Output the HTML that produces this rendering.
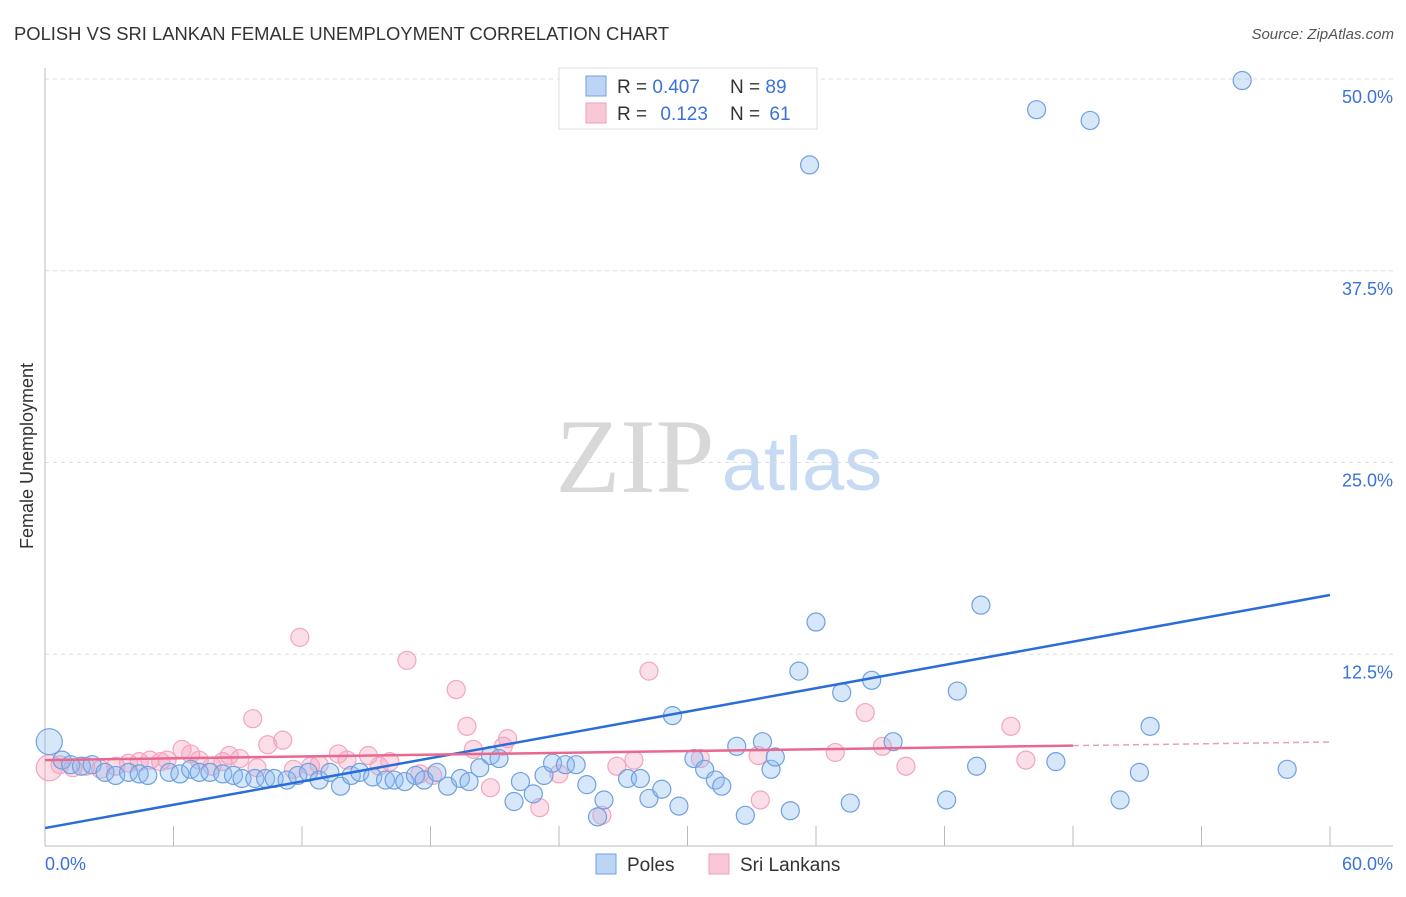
<!DOCTYPE html>
<html><head><meta charset="utf-8"><style>
body{margin:0;background:#fff;font-family:"Liberation Sans",sans-serif;}
svg text{font-family:"Liberation Sans",sans-serif;}
</style></head><body>
<svg id="chart" width="1406" height="892" xmlns="http://www.w3.org/2000/svg">
<text x="14" y="40" font-size="18.4" fill="#333">POLISH VS SRI LANKAN FEMALE UNEMPLOYMENT CORRELATION CHART</text>
<text x="1394" y="39" font-size="15" fill="#555" text-anchor="end" font-style="italic">Source: ZipAtlas.com</text>
<text x="0" y="0" transform="translate(33,456) rotate(-90)" font-size="18" fill="#333" text-anchor="middle">Female Unemployment</text>
<g>
<text x="635" y="492" font-size="106" fill="#d8d8d8" text-anchor="middle" font-family="Liberation Serif, serif" style="font-family:'Liberation Serif',serif">ZIP</text>
<text x="802" y="490" font-size="76" fill="#c7daf3" text-anchor="middle">atlas</text>
</g>
<g id="grid"></g><g id="axes"></g><g id="pts"></g><g id="lines"></g>
<g>
<rect x="559" y="68" width="258" height="61" fill="#fff" stroke="#ddd"/>
<rect x="586" y="76" width="20" height="20" fill="#bcd5f5" stroke="#6fa0e0"/>
<rect x="586" y="103" width="20" height="20" fill="#f9c8d6" stroke="#f0a0b8"/>
<text x="617" y="93" font-size="19" fill="#333">R = <tspan fill="#3b72d9">0.407</tspan></text>
<text x="730" y="93" font-size="19" fill="#333">N = <tspan fill="#3b72d9">89</tspan></text>
<text x="617" y="120" font-size="19" fill="#333">R = <tspan fill="#3b72d9" dx="8">0.123</tspan></text>
<text x="730" y="120" font-size="19" fill="#333">N = <tspan fill="#3b72d9" dx="4">61</tspan></text>
</g>
<g>
<rect x="596" y="854" width="20" height="20" fill="#bcd5f5" stroke="#6fa0e0"/>
<text x="627" y="871" font-size="19" fill="#333">Poles</text>
<rect x="709" y="854" width="20" height="20" fill="#f9c8d6" stroke="#f0a0b8"/>
<text x="740" y="871" font-size="19" fill="#333">Sri Lankans</text>
</g>
</svg>
<script>
const yTicks=[12.5,25,37.5,50];
const yTickLabels=["12.5%","25.0%","37.5%","50.0%"];
const xTicks=[0,6,12,18,24,30,36,42,48,54,60];
const xTickLabels=["0.0%","60.0%"];
const polesX=[0.2,0.8,1.2,1.7,2.2,2.8,3.3,3.9,4.4,4.8,5.8,6.3,6.8,7.2,7.7,8.3,8.8,9.2,9.8,10.3,10.7,11.3,11.8,12.3,12.8,13.3,13.8,14.3,14.7,15.3,15.9,16.3,16.8,17.3,17.7,18.3,18.8,19.4,19.8,20.3,20.8,21.2,21.9,22.2,22.8,23.3,23.7,24.3,24.8,25.3,25.8,26.1,27.2,27.8,28.2,28.8,29.3,29.6,30.3,30.8,31.3,31.6,32.3,32.7,33.5,33.9,34.1,34.8,35.2,35.7,36.0,37.2,37.6,38.6,39.6,42.1,42.6,43.5,43.7,46.3,47.2,48.8,50.2,51.1,51.6,55.9,58.0];
const polesY=[6.8,5.6,5.3,5.2,5.3,4.8,4.6,4.8,4.7,4.6,4.8,4.7,5.0,4.8,4.8,4.7,4.6,4.4,4.4,4.4,4.4,4.3,4.6,4.8,4.3,4.8,3.9,4.6,4.8,4.5,4.3,4.3,4.2,4.6,4.3,4.8,3.9,4.4,4.2,5.1,5.9,5.7,2.9,4.2,3.4,4.6,5.4,5.3,5.3,4.0,1.9,3.0,4.4,4.4,3.1,3.7,8.5,2.6,5.7,5.0,4.3,3.9,6.5,2.0,6.8,5.0,5.8,2.3,11.4,44.4,14.6,10.0,2.8,10.8,6.8,3.0,10.1,5.2,15.7,48.0,5.5,47.3,3.0,4.8,7.8,49.9,5.0];
const sriX=[0.2,0.7,1.3,1.9,2.6,3.3,3.9,4.4,4.9,5.4,5.7,6.4,6.8,7.2,7.8,8.3,8.6,9.1,9.7,9.9,10.4,11.1,11.6,11.9,12.4,12.8,13.7,14.1,15.1,15.6,16.1,16.9,17.5,18.1,19.2,19.7,20.0,20.8,21.4,21.6,23.1,24.0,26.0,26.7,27.5,28.2,30.6,33.3,33.4,36.9,38.3,39.1,40.2,45.1,45.8];
const sriY=[5.1,5.3,5.1,5.2,5.0,5.2,5.4,5.5,5.6,5.5,5.6,6.3,6.0,5.6,5.2,5.5,5.9,5.7,8.3,5.1,6.6,6.9,5.0,13.6,5.2,5.3,6.0,5.6,5.9,5.2,5.5,12.1,4.7,4.6,10.2,7.8,6.3,3.8,6.5,7.0,2.5,4.7,2.0,5.2,5.6,11.4,5.7,5.9,3.0,6.1,8.7,6.5,5.2,7.8,5.6];
const polesTrend=[1.17,16.36];
const sriTrend=[5.6,6.78];
const sriSolidEnd=48;
const NS="http://www.w3.org/2000/svg";
const X0=45,X1=1330,Y0=846,PX=15.34;
function sx(v){return X0+v/60*(X1-X0);}
function sy(v){return Y0-v*PX;}
function mk(tag,attrs,parent){const e=document.createElementNS(NS,tag);for(const k in attrs)e.setAttribute(k,attrs[k]);parent.appendChild(e);return e;}
const grid=document.getElementById('grid'),axes=document.getElementById('axes'),pts=document.getElementById('pts'),lines=document.getElementById('lines');
yTicks.forEach((t,i)=>{
 const g=mk('line',{x1:X0,x2:1393,y1:sy(t),y2:sy(t),stroke:'#ddd','stroke-dasharray':'4,4'},grid);
 
 
 const l=mk('text',{x:1393,y:sy(t)+24,'font-size':18,fill:'#3b72d9','text-anchor':'end'},grid);
 l.textContent=yTickLabels[i];
 
 
});
const tg=mk('line',{x1:X0,x2:1393,y1:79,y2:79,stroke:'#ddd','stroke-dasharray':'4,4'},grid);


const ya=mk('line',{x1:X0,x2:X0,y1:68,y2:Y0,stroke:'#bbb'},axes);


const xa=mk('line',{x1:X0,x2:1393,y1:Y0,y2:Y0,stroke:'#bbb'},axes);


xTicks.forEach(t=>{
 const k=mk('line',{x1:sx(t),x2:sx(t),y1:826,y2:Y0,stroke:'#bbb'},axes);
 
 
});
const xl0=mk('text',{x:45,y:870,'font-size':18,fill:'#3b72d9'},axes);xl0.textContent=xTickLabels[0];


const xl1=mk('text',{x:1393,y:870,'font-size':18,fill:'#3b72d9','text-anchor':'end'},axes);xl1.textContent=xTickLabels[1];


sriX.forEach((x,i)=>{
 const c=mk('circle',{cx:sx(x),cy:sy(sriY[i]),r:i==0?13:9,fill:'rgba(244,160,188,0.35)',stroke:'#f2a6bf','stroke-width':1.2},pts);
 
 
});
polesX.forEach((x,i)=>{
 const c=mk('circle',{cx:sx(x),cy:sy(polesY[i]),r:i==0?13:9,fill:'rgba(140,185,240,0.35)',stroke:'#6fa0e0','stroke-width':1.2},pts);
 
 
});
const bl=mk('line',{x1:sx(0),y1:sy(polesTrend[0]),x2:sx(60),y2:sy(polesTrend[1]),stroke:'#2a6dd9','stroke-width':2.5},lines);


const ym=sriTrend[0]+(sriTrend[1]-sriTrend[0])*sriSolidEnd/60;
const pl=mk('line',{x1:sx(0),y1:sy(sriTrend[0]),x2:sx(sriSolidEnd),y2:sy(ym),stroke:'#e8688f','stroke-width':2.5},lines);


const pd=mk('line',{x1:sx(sriSolidEnd),y1:sy(ym),x2:sx(60),y2:sy(sriTrend[1]),stroke:'#e8a0b6','stroke-width':1.5,'stroke-dasharray':'6,4'},lines);


</script>
</body></html>
